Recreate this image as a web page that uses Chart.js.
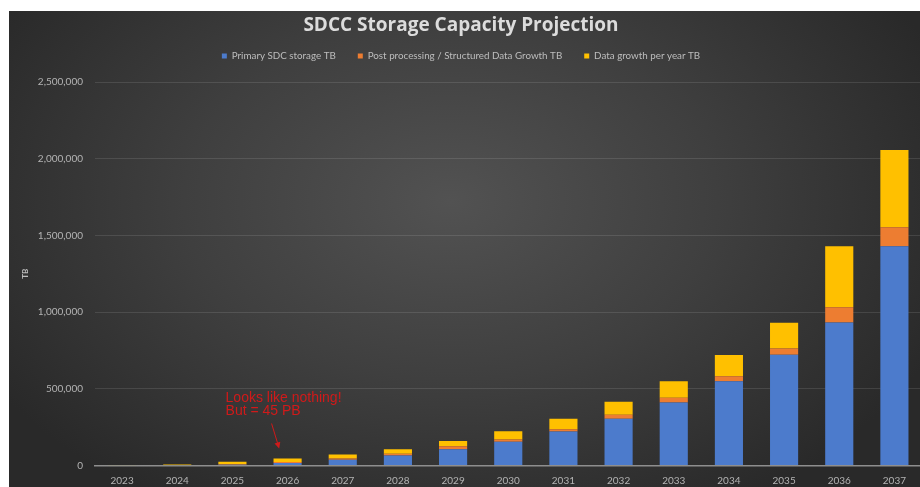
<!DOCTYPE html>
<html>
<head>
<meta charset="utf-8">
<script src="https://cdn.jsdelivr.net/npm/chart.js@4"></script>
<style>
  html, body { margin: 0; padding: 0; background: #ffffff; overflow: hidden; width: 920px; height: 487px; }
  #panel { position: absolute; left: 9px; top: 11px; width: 920px; height: 476px;
    background: radial-gradient(ellipse 58% 75% at 48% 40%, #525252 0%, #3f3f3f 50%, #292929 100%); }
  #c { position: absolute; left: 0; top: 0; }
</style>
</head>
<body>
<div id="panel"></div>
<canvas id="c" width="925" height="487"></canvas>
<script>
const years = ['2023','2024','2025','2026','2027','2028','2029','2030','2031','2032','2033','2034','2035','2036','2037'];
const primaryStorage = [1000, 1500, 5000, 17000, 38000, 65000, 106000, 155000, 222000, 305000, 411000, 550000, 722000, 933000, 1429000];
const postProcessing = [500, 800, 3000, 6000, 8000, 11000, 20000, 15000, 15000, 26000, 31000, 31000, 40000, 98000, 124000];
const dataGrowth = [2500, 4000, 16000, 22000, 26000, 30000, 33000, 54000, 68000, 85000, 108000, 139000, 169000, 398000, 503000];
const seriesNames = ['Primary SDC storage TB', 'Post processing / Structured Data Growth TB', 'Data growth per year TB'];
const yTicks = [0, 500000, 1000000, 1500000, 2000000, 2500000];
const annotationLines = ['Looks like nothing!', 'But = 45 PB'];

const annotationPlugin = {
  id: 'noteArrow',
  afterDatasetsDraw(chart) {
    const ctx = chart.ctx;
    const xs = chart.scales.x, ys = chart.scales.y;
    const cx = xs.getPixelForValue(3);
    const base = ys.getPixelForValue(0);
    ctx.save();
    ctx.fillStyle = '#d01a1a';
    ctx.strokeStyle = '#d01a1a';
    ctx.font = '14px "Liberation Sans", Arial, sans-serif';
    ctx.textBaseline = 'middle';
    ctx.textAlign = 'left';
    ctx.fillText(annotationLines[0], cx - 62, base - 67);
    ctx.fillText(annotationLines[1], cx - 62, base - 54);
    const x1 = cx - 16, y1 = base - 42, x2 = cx - 9, y2 = base - 19;
    ctx.lineWidth = 1;
    ctx.beginPath(); ctx.moveTo(x1, y1); ctx.lineTo(x2, y2); ctx.stroke();
    const ang = Math.atan2(y2 - y1, x2 - x1);
    ctx.beginPath();
    ctx.moveTo(x2 + Math.cos(ang) * 2, y2 + Math.sin(ang) * 2);
    ctx.lineTo(x2 - Math.cos(ang) * 4 + Math.cos(ang + Math.PI / 2) * 3, y2 - Math.sin(ang) * 4 + Math.sin(ang + Math.PI / 2) * 3);
    ctx.lineTo(x2 - Math.cos(ang) * 4 - Math.cos(ang + Math.PI / 2) * 3, y2 - Math.sin(ang) * 4 - Math.sin(ang + Math.PI / 2) * 3);
    ctx.closePath(); ctx.fill();
    ctx.restore();
  }
};

const tickColor = '#b4b4b4';
new Chart(document.getElementById('c'), {
  type: 'bar',
  data: {
    labels: years,
    datasets: [
      { label: seriesNames[0], data: primaryStorage, backgroundColor: '#4c7bcc' },
      { label: seriesNames[1], data: postProcessing, backgroundColor: '#ed7d31' },
      { label: seriesNames[2], data: dataGrowth, backgroundColor: '#ffc000' }
    ]
  },
  options: {
    responsive: false,
    animation: false,
    layout: { padding: { left: 0, right: 3, top: 0, bottom: 0 } },
    datasets: { bar: { barPercentage: 0.51, categoryPercentage: 1.0, borderWidth: 0 } },
    plugins: {
      title: {
        display: true,
        text: 'SDCC Storage Capacity Projection',
        color: '#dcdcdc',
        font: { family: 'Open Sans', size: 19, weight: 'bold', lineHeight: 1 },
        padding: { top: 16.5, bottom: -6.4 }
      },
      legend: {
        display: true,
        position: 'top',
        weight: 1800,
        labels: {
          color: '#bdbdbd',
          font: { family: 'Lato', size: 9.8 },
          boxWidth: 5,
          boxHeight: 5,
          padding: 22
        }
      },
      subtitle: {
        display: true,
        text: '',
        font: { size: 1, lineHeight: 1 },
        padding: { top: 10.1, bottom: 0 }
      },
      tooltip: { enabled: false }
    },
    scales: {
      x: {
        stacked: true,
        afterFit(scale) { scale.height = 21.5; },
        grid: { display: false, drawTicks: false },
        border: { display: true, color: '#8e8e8e', width: 1.5 },
        ticks: { color: tickColor, font: { family: 'Lato', size: 10 }, padding: 9, maxRotation: 0, autoSkip: false }
      },
      y: {
        stacked: true,
        min: 0,
        max: 2500000,
        afterFit(scale) { scale.width = 94.5; },
        afterBuildTicks(scale) { scale.ticks = yTicks.map(v => ({ value: v })); },
        grid: { color: 'rgba(255,255,255,0.11)', lineWidth: 1, drawTicks: false },
        border: { display: false },
        ticks: {
          color: tickColor, font: { family: 'Lato', size: 10 }, padding: 11.5,
          callback: v => v.toLocaleString('en-US')
        },
        title: {
          display: true, text: 'TB', color: '#bdbdbd',
          font: { family: 'Lato', size: 8, weight: 'bold' },
          padding: { top: 21, bottom: 0 }
        }
      }
    }
  },
  plugins: [annotationPlugin]
});
</script>
</body>
</html>
